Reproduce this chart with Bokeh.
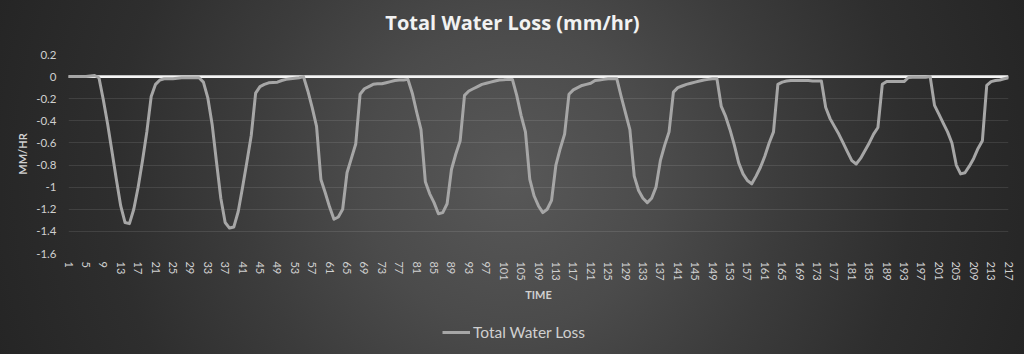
from bokeh.plotting import figure
from bokeh.layouts import column
from bokeh.models import (Range1d, FixedTicker, CustomJSTickFormatter, Span, Legend,
                          LegendItem, InlineStyleSheet, Label)
from bokeh.embed import file_html
from bokeh.resources import INLINE

# ---------------- data ----------------
time = list(range(1, 218))

total_water_loss = [
    # 1-24
    0, 0, 0, 0, 0, 0.005, 0.01, -0.01, -0.21, -0.43, -0.68, -0.93,
    -1.17, -1.32, -1.33, -1.2, -1.0, -0.76, -0.5, -0.18, -0.07, -0.03, -0.02, -0.02,
    # 25-48
    -0.02, -0.015, -0.01, -0.01, -0.01, -0.01, -0.01, -0.05, -0.19, -0.43, -0.77, -1.1,
    -1.32, -1.37, -1.36, -1.22, -1.0, -0.77, -0.53, -0.15, -0.09, -0.07, -0.056, -0.053,
    # 49-72
    -0.05, -0.035, -0.025, -0.02, -0.015, -0.01, 0, -0.13, -0.28, -0.45, -0.93, -1.05,
    -1.18, -1.29, -1.27, -1.2, -0.87, -0.74, -0.61, -0.16, -0.11, -0.09, -0.07, -0.065,
    # 73-96
    -0.065, -0.055, -0.045, -0.035, -0.03, -0.03, -0.025, -0.15, -0.32, -0.48, -0.95, -1.06,
    -1.14, -1.24, -1.23, -1.15, -0.84, -0.7, -0.58, -0.17, -0.13, -0.11, -0.09, -0.07,
    # 97-120
    -0.06, -0.05, -0.04, -0.03, -0.028, -0.025, -0.025, -0.17, -0.35, -0.5, -0.93, -1.08,
    -1.17, -1.23, -1.2, -1.12, -0.8, -0.65, -0.52, -0.16, -0.12, -0.1, -0.08, -0.07,
    # 121-144
    -0.06, -0.035, -0.03, -0.025, -0.02, -0.02, -0.02, -0.18, -0.33, -0.48, -0.9, -1.03,
    -1.1, -1.14, -1.1, -1.0, -0.76, -0.62, -0.5, -0.14, -0.1, -0.085, -0.07, -0.06,
    # 145-168
    -0.05, -0.04, -0.03, -0.025, -0.02, -0.02, -0.27, -0.36, -0.48, -0.62, -0.78, -0.88,
    -0.94, -0.97, -0.9, -0.82, -0.72, -0.6, -0.5, -0.07, -0.05, -0.04, -0.035, -0.035,
    # 169-192
    -0.035, -0.035, -0.035, -0.04, -0.04, -0.04, -0.28, -0.38, -0.45, -0.52, -0.6, -0.68,
    -0.76, -0.79, -0.74, -0.67, -0.6, -0.52, -0.46, -0.07, -0.045, -0.045, -0.045, -0.045,
    # 193-217
    -0.045, -0.008, -0.005, -0.005, -0.005, -0.005, 0, -0.26, -0.34, -0.42, -0.5, -0.6,
    -0.8, -0.88, -0.87, -0.81, -0.74, -0.65, -0.58, -0.08, -0.045, -0.035, -0.03, -0.02, -0.01,
]

x_ticks = list(range(1, 218, 4))
y_ticks = [-1.6, -1.4, -1.2, -1.0, -0.8, -0.6, -0.4, -0.2, 0.0, 0.2]

title_text = "Total Water Loss (mm/hr)"
x_title = "TIME"
y_title = "MM/HR"
series_name = "Total Water Loss"

# ---------------- styling ----------------
FONT = "Lato"
LABEL_COLOR = "#d0d0d0"
SERIES_COLOR = "#a6a6a6"
W = 1024
LEFT, RIGHT = 68, 16            # plot-area margins shared by all strips (frames align)
H_TITLE, H_MAIN, H_LEG = 40, 263, 51


def bare_figure(h):
    # page x coordinates inside the (aligned) frame: LEFT .. W-RIGHT
    f = figure(width=W, height=h, output_backend="svg", toolbar_location=None,
               x_range=Range1d(LEFT, W - RIGHT), y_range=Range1d(0, h),
               x_axis_location=None, y_axis_location=None,
               min_border=0, min_border_left=LEFT, min_border_right=RIGHT,
               background_fill_color=None, border_fill_color=None,
               outline_line_color=None)
    f.grid.grid_line_color = None
    return f


# ---------------- title strip ----------------
pt = bare_figure(H_TITLE)
pt.add_layout(Label(x=W / 2, y=H_TITLE - 22, text=title_text, text_align="center",
                    text_baseline="middle", text_font="Open Sans", text_font_style="bold",
                    text_font_size="20px", text_color="#f2f2f2"))

# ---------------- main chart ----------------
p = figure(width=W, height=H_MAIN, output_backend="svg", toolbar_location=None,
           x_range=Range1d(1, 217), y_range=Range1d(-1.6, 0.2),
           min_border_left=LEFT, min_border_right=RIGHT, min_border_top=14, min_border_bottom=50,
           background_fill_color=None, border_fill_color=None, outline_line_color=None)

p.xgrid.grid_line_color = None
p.ygrid.ticker = FixedTicker(ticks=y_ticks)
p.ygrid.grid_line_color = "#ffffff"
p.ygrid.grid_line_alpha = 0.1
p.ygrid.grid_line_width = 1

zero = Span(location=0, dimension="width", line_color="#f4f4f4", line_width=2.6, level="underlay")
p.add_layout(zero)

r = p.line(time, total_water_loss, line_color=SERIES_COLOR, line_width=3,
           line_join="round", line_cap="round")

xa = p.xaxis[0]
xa.ticker = FixedTicker(ticks=x_ticks)
xa.major_label_orientation = "vertical"
xa.axis_line_color = None
xa.major_tick_line_color = None
xa.minor_tick_line_color = None
xa.major_tick_out = 0
xa.major_tick_in = 0
xa.minor_tick_out = 0
xa.major_label_text_color = LABEL_COLOR
xa.major_label_text_font = FONT
xa.major_label_text_font_size = "11px"
xa.major_label_standoff = 8
xa.axis_label = x_title
xa.axis_label_text_font = FONT
xa.axis_label_text_font_style = "bold"
xa.axis_label_text_font_size = "11px"
xa.axis_label_text_color = LABEL_COLOR
xa.axis_label_standoff = 4

ya = p.yaxis[0]
ya.ticker = FixedTicker(ticks=y_ticks)
ya.formatter = CustomJSTickFormatter(code="return (Math.round(tick*10)/10).toString();")
ya.axis_line_color = None
ya.major_tick_line_color = None
ya.minor_tick_line_color = None
ya.major_tick_out = 0
ya.major_tick_in = 0
ya.minor_tick_out = 0
ya.major_label_text_color = LABEL_COLOR
ya.major_label_text_font = FONT
ya.major_label_text_font_size = "11.5px"
ya.major_label_standoff = 12
ya.axis_label = y_title
ya.axis_label_text_font = FONT
ya.axis_label_text_font_style = "bold"
ya.axis_label_text_font_size = "11px"
ya.axis_label_text_color = LABEL_COLOR
ya.axis_label_standoff = 4

# ---------------- legend strip ----------------
pl = bare_figure(H_LEG)
nan = float("nan")
proxy = pl.line(x=[nan], y=[nan], line_color=SERIES_COLOR, line_width=3)  # legend key only
legend = Legend(items=[LegendItem(label=series_name, renderers=[proxy])],
                location=(442 - LEFT, 12), orientation="horizontal",
                background_fill_alpha=0, border_line_alpha=0,
                label_text_color=LABEL_COLOR, label_text_font=FONT,
                label_text_font_size="15.5px", glyph_width=28, glyph_height=20,
                label_standoff=3, padding=0, margin=0)
pl.add_layout(legend)

layout = column(pt, p, pl, spacing=0)
layout.stylesheets = [InlineStyleSheet(css=""":host {
  background: radial-gradient(circle at 50% 50%, #585858 0px, #4b4b4b 150px,
              #3c3c3c 270px, #2e2e2e 400px, #242424 560px);
}""")]

open("out.html", "w").write(file_html(layout, INLINE))
